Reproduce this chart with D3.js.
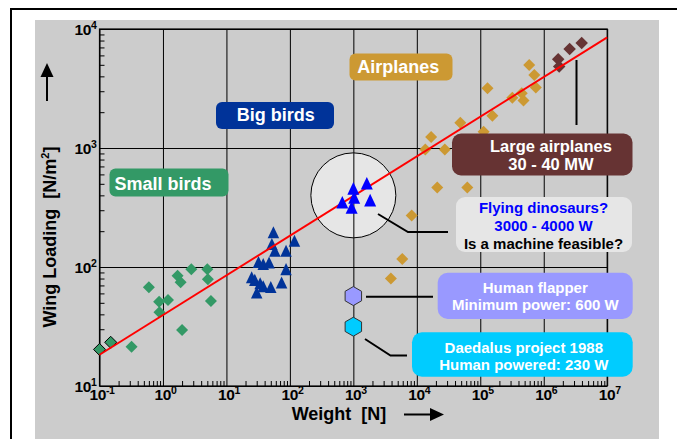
<!DOCTYPE html>
<html>
<head>
<meta charset="utf-8">
<script src="https://cdn.jsdelivr.net/npm/d3@7"></script>
<style>
  html, body { margin: 0; padding: 0; background: #fff; }
  svg { display: block; font-family: "Liberation Sans", Arial, Helvetica, sans-serif; font-weight: bold; }
</style>
</head>
<body>
<svg id="chart" width="677" height="439"></svg>
<script>
// Wing loading versus weight, from small birds up to large airplanes (log-log)

// Axis decades (exponents of ten)
const xExponents = [-1, 0, 1, 2, 3, 4, 5, 6, 7];
const yExponents = [1, 2, 3, 4];

// Small birds: weight [N], wing loading [N/m²]
const smallBirdWeight  = [0.1, 0.15, 0.32, 0.6, 0.87, 0.88, 1.2, 1.7, 1.9, 2.0, 2.8, 5.0, 5.1, 5.7];
const smallBirdLoading = [20.3, 23.3, 21.4, 67.5, 51, 41.6, 52.8, 84.5, 74.4, 29.6, 95.7, 95.7, 78.8, 51.8];

// Big birds
const bigBirdWeight  = [55, 52, 118, 58, 87, 32, 38, 47, 87, 25, 28, 34, 38, 50, 74, 30];
const bigBirdLoading = [196, 156, 166, 137, 137, 110, 106, 109, 96, 82, 78, 73, 69, 68, 74, 61];

// Flying dinosaurs, and the centre of the circle drawn around them
const dinoWeight  = [1000, 1630, 670, 1030, 1840, 940];
const dinoLoading = [458, 505, 350, 385, 365, 317];
const dinoGroupCentre = [1000, 400];

// Airplanes
const planeWeight  = [5.9e5, 7.1e5, 7.5e5, 1.3e5, 3.2e5, 4.5e5, 4.8e5, 1.55e5, 4.85e4, 1.68e4, 1.36e4, 2.76e4, 1.13e5, 2.1e4, 6.25e4, 8.3e3, 5.9e3, 3.9e3];
const planeLoading = [4980, 4100, 3220, 3180, 2650, 2880, 2510, 1870, 1630, 1240, 970, 970, 1370, 466, 466, 271, 117, 80];

// Large airplanes (30 - 40 MW)
const largePlaneWeight  = [1.69e6, 1.75e6, 2.56e6, 3.96e6];
const largePlaneLoading = [5580, 4840, 6790, 7630];

// Human-powered flight
const flapperWeight = [1000], flapperLoading = [57];
const daedalusWeight = [1000], daedalusLoading = [31.5];

// Overall trend: wing loading ~ weight^(1/3)
const trendWeight  = [0.1, 1e7];
const trendLoading = [18.3, 8500];

const svg = d3.select("#chart");
const x = d3.scaleLog().domain([0.1, 1e7]).range([99.5, 607.2]);
const y = d3.scaleLog().domain([10, 1e4]).range([386, 29]);
const [x0, x1] = x.range();
const [y0, y1] = y.range();

// Page frame and grey panel
svg.append("rect").attr("x", 11).attr("y", 9).attr("width", 700).attr("height", 450)
  .attr("fill", "#fff").attr("stroke", "#000").attr("stroke-width", 2);
svg.append("rect").attr("x", 35).attr("y", 20).attr("width", 624).attr("height", 430)
  .attr("fill", "#cccccc");

const xMajor = xExponents.map(e => Math.pow(10, e));
const yMajor = yExponents.map(e => Math.pow(10, e));
const xMinor = [], yMinor = [];
xExponents.slice(0, -1).forEach(e => { for (let m = 2; m <= 9; m++) xMinor.push(m * Math.pow(10, e)); });
yExponents.slice(0, -1).forEach(e => { for (let m = 2; m <= 9; m++) yMinor.push(m * Math.pow(10, e)); });

// Dinosaur circle sits underneath the grid
svg.append("circle")
  .attr("cx", x(dinoGroupCentre[0])).attr("cy", y(dinoGroupCentre[1])).attr("r", 42.5)
  .attr("fill", "#e6e6e6").attr("stroke", "#000").attr("stroke-width", 1);

// Grid lines through the library's axes
const gridX = svg.append("g").attr("transform", `translate(0,${y0})`)
  .call(d3.axisBottom(x).tickValues(xMajor).tickSizeInner(-(y0 - y1)).tickSizeOuter(0).tickFormat(() => ""));
const gridY = svg.append("g").attr("transform", `translate(${x0},0)`)
  .call(d3.axisLeft(y).tickValues(yMajor).tickSizeInner(-(x1 - x0)).tickSizeOuter(0).tickFormat(() => ""));
[gridX, gridY].forEach(g => {
  g.select(".domain").remove();
  g.selectAll("line").attr("stroke", "#000").attr("stroke-width", 1);
});

// Minor ticks pointing into the plot
const minX = svg.append("g").attr("transform", `translate(0,${y0})`)
  .call(d3.axisBottom(x).tickValues(xMinor).tickSizeInner(-5).tickSizeOuter(0).tickFormat(() => ""));
const minY = svg.append("g").attr("transform", `translate(${x0},0)`)
  .call(d3.axisLeft(y).tickValues(yMinor).tickSizeInner(-5).tickSizeOuter(0).tickFormat(() => ""));
[minX, minY].forEach(g => {
  g.select(".domain").remove();
  g.selectAll("line").attr("stroke", "#000").attr("stroke-width", 1);
});

// Plot border
svg.append("rect").attr("x", x0).attr("y", y1).attr("width", x1 - x0).attr("height", y0 - y1)
  .attr("fill", "none").attr("stroke", "#000").attr("stroke-width", 1.2);

// Power-of-ten tick labels
function powerLabel(sel, exp, anchor) {
  sel.text(null).attr("text-anchor", anchor);
  sel.append("tspan").text("10");
  sel.append("tspan").attr("font-size", "10.5px").attr("dy", "-6").text(exp);
}
const labX = svg.append("g").attr("transform", `translate(0,${y0})`)
  .call(d3.axisBottom(x).tickValues(xMajor).tickSize(0).tickFormat(d => String(Math.round(Math.log10(d)))));
labX.select(".domain").remove();
labX.selectAll("text").each(function(d) {
  const t = d3.select(this).attr("y", 14).attr("dy", 0).attr("x", 2)
    .attr("font-size", "15.5px").attr("font-family", null).attr("fill", "#000");
  powerLabel(t, String(Math.round(Math.log10(d))), "middle");
});
const labY = svg.append("g").attr("transform", `translate(${x0},0)`)
  .call(d3.axisLeft(y).tickValues(yMajor).tickSize(0).tickFormat(d => String(Math.round(Math.log10(d)))));
labY.select(".domain").remove();
labY.selectAll("text").each(function(d) {
  const t = d3.select(this).attr("x", -3).attr("dy", 0).attr("y", 5.5)
    .attr("font-size", "15.5px").attr("font-family", null).attr("fill", "#000");
  powerLabel(t, String(Math.round(Math.log10(d))), "end");
});
svg.selectAll(".tick text").attr("font-weight", "bold").style("letter-spacing", "-0.4px");

// Marker shapes
const diamond = { draw(ctx, size) { const r = size / 2; ctx.moveTo(0, -r); ctx.lineTo(r, 0); ctx.lineTo(0, r); ctx.lineTo(-r, 0); ctx.closePath(); } };
const triangle = { draw(ctx, size) { const w = size, h = size * 1.05; ctx.moveTo(0, -h / 2); ctx.lineTo(w / 2, h / 2); ctx.lineTo(-w / 2, h / 2); ctx.closePath(); } };
const hexagon = { draw(ctx, size) { const r = size / 2; for (let i = 0; i < 6; i++) { const a = Math.PI / 3 * i - Math.PI / 2; const px = r * Math.cos(a), py = r * Math.sin(a); if (i) ctx.lineTo(px, py); else ctx.moveTo(px, py); } ctx.closePath(); } };

function plotSeries(ws, ls, type, size, fill, stroke) {
  const pts = ws.map((w, i) => ({ w, l: ls[i], i }));
  return svg.append("g").selectAll("path").data(pts).join("path")
    .attr("transform", d => `translate(${x(d.w)},${y(d.l)})`)
    .attr("d", d3.symbol().type(type).size(size))
    .attr("fill", fill)
    .attr("stroke", typeof stroke === "function" ? d => stroke(d) : stroke)
    .attr("stroke-width", 1);
}

plotSeries(smallBirdWeight, smallBirdLoading, diamond, 12, "#339966", d => d.i < 2 ? "#000" : "none");
plotSeries(bigBirdWeight, bigBirdLoading, triangle, 11.5, "#003399", "none");
plotSeries(planeWeight, planeLoading, diamond, 12, "#cc9933", "none");
plotSeries(largePlaneWeight, largePlaneLoading, diamond, 12.5, "#663333", "none");

// Trend line
svg.append("path")
  .datum(trendWeight.map((w, i) => [w, trendLoading[i]]))
  .attr("d", d3.line().x(d => x(d[0])).y(d => y(d[1])))
  .attr("stroke", "#ff0000").attr("stroke-width", 2).attr("fill", "none");

plotSeries(dinoWeight, dinoLoading, triangle, 12, "#0000ff", "none");
plotSeries(flapperWeight, flapperLoading, hexagon, 19, "#9999ff", "#333");
plotSeries(daedalusWeight, daedalusLoading, hexagon, 19, "#00ccff", "#333");

// Leader lines
const leader = d3.line();
[
  [[378, 214], [408, 232], [448, 232]],
  [[366, 296.7], [433, 296.7]],
  [[365, 339], [390.5, 355.5], [407, 355.5]],
  [[576.5, 60], [576.5, 125]]
].forEach(p => svg.append("path").attr("d", leader(p)).attr("stroke", "#000").attr("stroke-width", 2).attr("fill", "none"));

// Annotation boxes
const boxes = [
  { x: 109.5, y: 168.5, w: 119, h: 28, r: 6, fill: "#339966", tx: 163, size: 18, lines: [["Small birds", "#fff", 190]] },
  { x: 216, y: 102, w: 118, h: 27, r: 6, fill: "#003399", tx: 275.7, size: 18, lines: [["Big birds", "#fff", 120.5]] },
  { x: 349.5, y: 53.5, w: 103, h: 27, r: 6, fill: "#cc9933", tx: 398.3, size: 18, lines: [["Airplanes", "#fff", 73.3]] },
  { x: 452, y: 133.5, w: 180.5, h: 42, r: 9, fill: "#663333", tx: 551, size: 16.5, lines: [["Large airplanes", "#fff", 152], ["30 - 40 MW", "#fff", 170]] },
  { x: 456, y: 197, w: 176, h: 55, r: 9, fill: "#e6e6e6", tx: 543.5, size: 15, lines: [["Flying dinosaurs?", "#0000ff", 213.3], ["3000 - 4000 W", "#0000ff", 231], ["Is a machine feasible?", "#000", 249]] },
  { x: 437.7, y: 272.7, w: 195, h: 46.3, r: 10, fill: "#9999ff", tx: 535.3, size: 15, lines: [["Human flapper", "#fff", 293.3], ["Minimum power: 600 W", "#fff", 310]] },
  { x: 412, y: 332.3, w: 220.7, h: 44.4, r: 10, fill: "#00ccff", tx: 523.8, size: 15, lines: [["Daedalus project 1988", "#fff", 353.3], ["Human powered: 230 W", "#fff", 370]] }
];
boxes.forEach(b => {
  svg.append("rect").attr("x", b.x).attr("y", b.y).attr("width", b.w).attr("height", b.h)
    .attr("rx", b.r).attr("fill", b.fill);
  b.lines.forEach(([txt, col, base]) => {
    svg.append("text").attr("x", b.tx).attr("y", base).attr("text-anchor", "middle")
      .attr("font-size", b.size + "px").attr("fill", col).text(txt);
  });
});

// Axis titles with arrows
svg.append("text").attr("x", 339).attr("y", 420).attr("text-anchor", "middle")
  .attr("font-size", "18px").attr("fill", "#000").attr("xml:space", "preserve").text("Weight  [N]");
svg.append("line").attr("x1", 404).attr("x2", 432).attr("y1", 414.5).attr("y2", 414.5)
  .attr("stroke", "#000").attr("stroke-width", 2);
svg.append("path").attr("d", "M444,414.5 L430,408 L430,421 Z").attr("fill", "#000");

const yTitle = svg.append("text").attr("transform", "translate(55.5,237) rotate(-90)")
  .attr("text-anchor", "middle").attr("font-size", "18px").attr("fill", "#000").attr("xml:space", "preserve");
yTitle.append("tspan").text("Wing Loading  [N/m");
yTitle.append("tspan").attr("font-size", "11px").attr("dy", "-7").text("2");
yTitle.append("tspan").attr("dy", "7").text("]");
svg.append("line").attr("x1", 47).attr("x2", 47).attr("y1", 101).attr("y2", 75)
  .attr("stroke", "#000").attr("stroke-width", 2);
svg.append("path").attr("d", "M47,63 L40.5,77 L53.5,77 Z").attr("fill", "#000");
</script>
</body>
</html>
